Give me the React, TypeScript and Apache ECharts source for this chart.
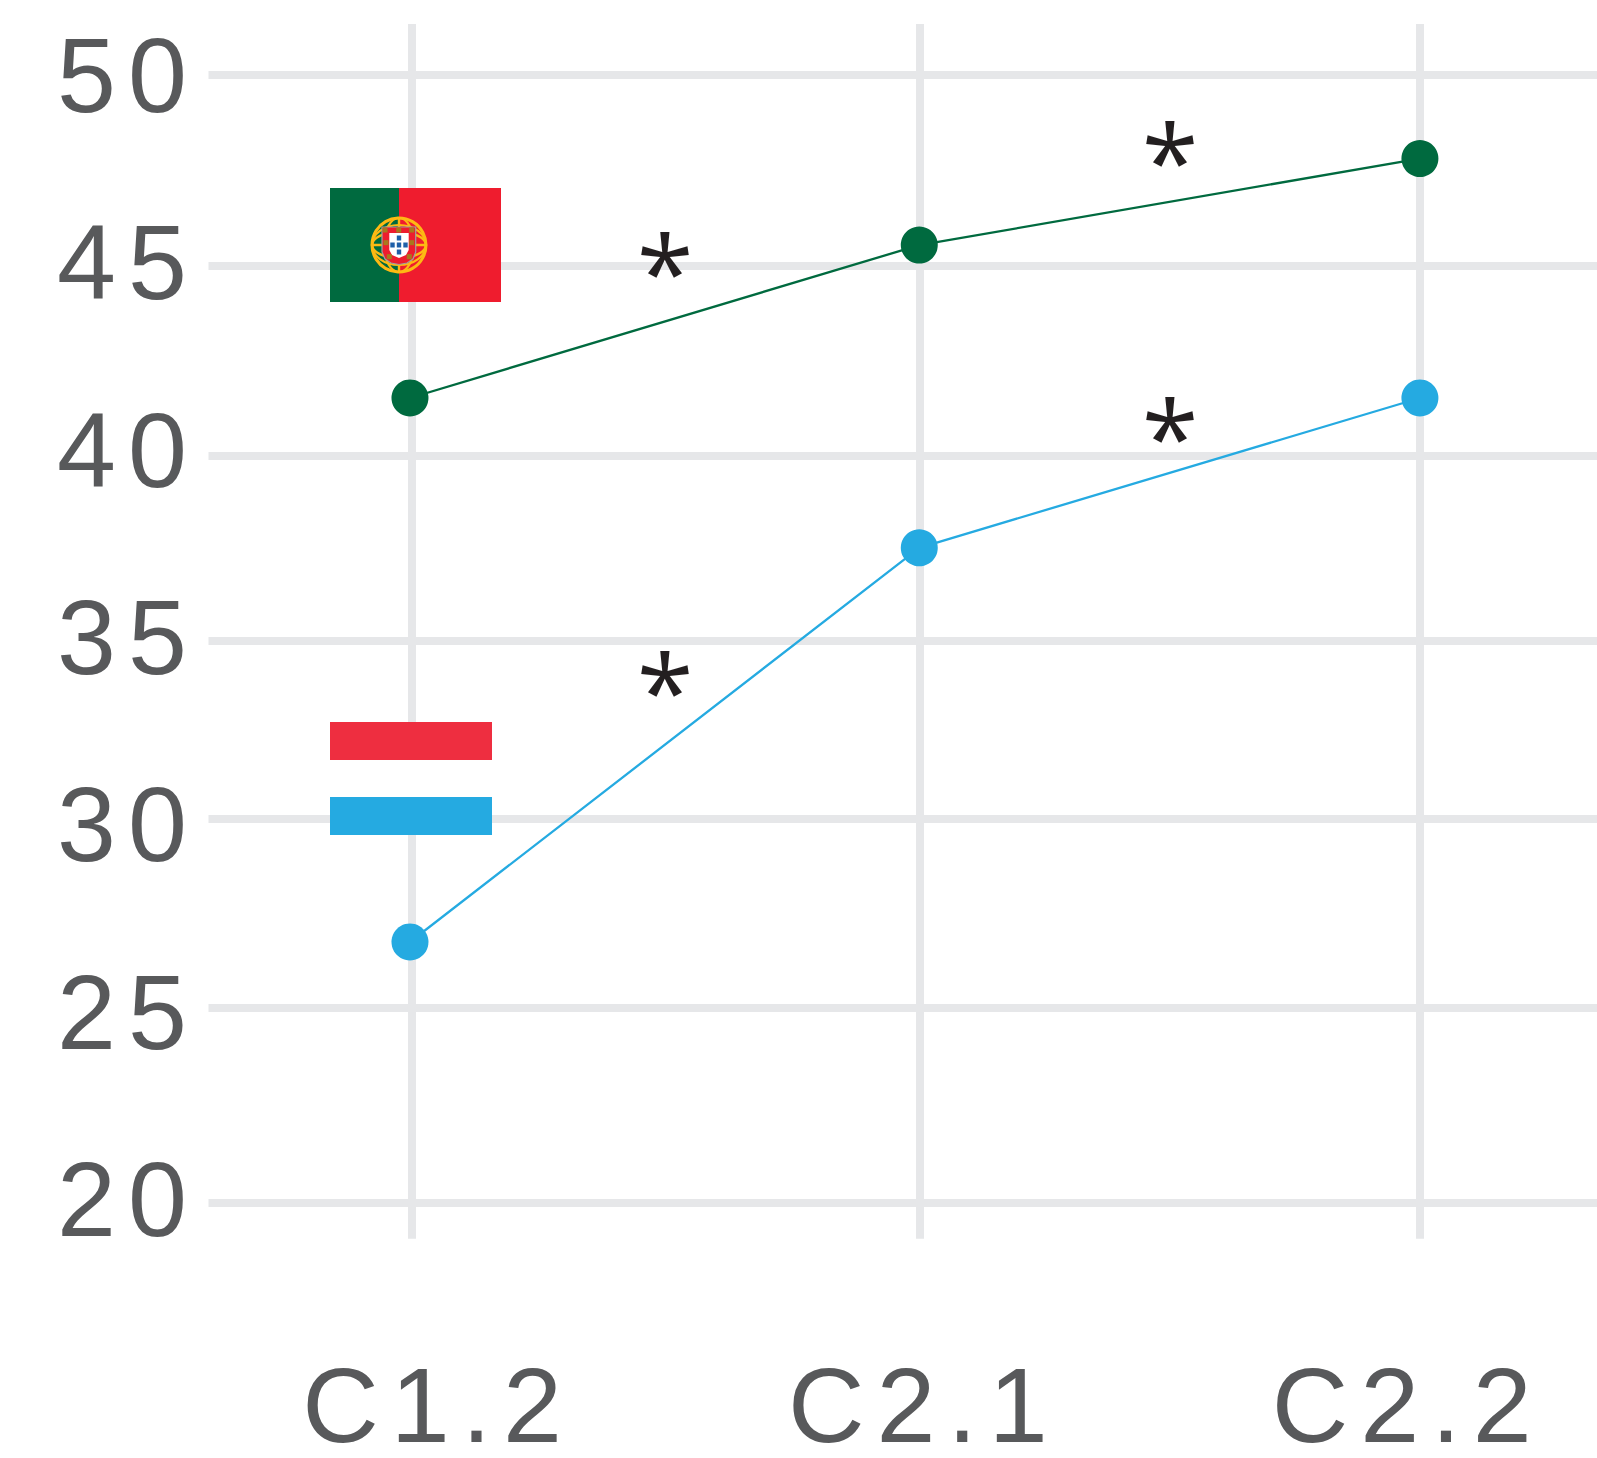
import React, { useEffect, useRef } from "react";
import * as echarts from "echarts";

const categories = ["C1.2", "C2.1", "C2.2"];
const pointX = [0, 1, 1.983];
const portugal = [41.38, 45.46, 47.77];
const netherlands = [26.86, 37.38, 41.38];
const yLabels = [20, 25, 30, 35, 40, 45, 50];
const yGridLines = [19.89, 25.1, 30.14, 34.9, 39.83, 44.91, 50];
const xGridLines = [0.004, 1, 1.983];
const xLabelAt = [0.0552, 1.009, 1.959];

const GREEN = "#006a3f";
const BLUE = "#25aae1";
const GREY = "#58595b";
const GRID = "#e6e7e9";
const GOLD = "#fdb913";
const FLAG_RED = "#ef1c2e";
const SHIELD_BLUE = "#1f5fa8";
const CASTLE = "#a9781d";

const rect = (x: number, y: number, width: number, height: number, fill: string) => ({
  type: "rect",
  z: 100,
  shape: { x, y, width, height },
  style: { fill },
  silent: true,
});

const star = (x: number, y: number) => ({
  type: "text",
  z: 101,
  x,
  y,
  silent: true,
  style: {
    text: "*",
    fill: "#231f20",
    font: "103px 'Open Sans'",
    textAlign: "center",
    textVerticalAlign: "top",
  },
});

const castles = [
  [385, 230], [398.7, 230], [411.7, 230], [386, 242.7], [411.7, 242.7], [389.3, 256.7], [409.3, 256.7],
];
const quinas = [
  [399, 238], [399, 245], [392.5, 245], [405.5, 245], [399, 252],
];

const flag = [
  rect(330, 188, 171, 114, FLAG_RED),
  rect(330, 188, 69, 114, GREEN),
  { type: "ellipse", z: 102, silent: true, shape: { cx: 399, cy: 245, rx: 27, ry: 13 }, style: { fill: "none", stroke: GOLD, lineWidth: 2.4 } },
  { type: "ellipse", z: 102, silent: true, shape: { cx: 399, cy: 245, rx: 27, ry: 20 }, style: { fill: "none", stroke: GOLD, lineWidth: 2.2 } },
  { type: "ellipse", z: 102, silent: true, shape: { cx: 399, cy: 245, rx: 15, ry: 27 }, style: { fill: "none", stroke: GOLD, lineWidth: 2.2 } },
  { type: "line", z: 102, silent: true, shape: { x1: 399, y1: 217, x2: 399, y2: 273 }, style: { stroke: GOLD, lineWidth: 2.4 } },
  { type: "line", z: 102, silent: true, shape: { x1: 371, y1: 245, x2: 427, y2: 245 }, style: { stroke: GOLD, lineWidth: 2.4 } },
  { type: "circle", z: 102, silent: true, shape: { cx: 399, cy: 245, r: 27 }, style: { fill: "none", stroke: GOLD, lineWidth: 3 } },
  {
    type: "polygon", z: 103, silent: true,
    shape: { points: [[382, 227], [415.7, 227], [415.7, 252], [413, 259], [407, 263], [399, 264.5], [391, 263], [385, 259], [382, 252]] },
    style: { fill: "#ed1c2e", stroke: "#a0a0a0", lineWidth: 1.2 },
  },
  {
    type: "polygon", z: 104, silent: true,
    shape: { points: [[389.3, 233], [408.7, 233], [408.7, 250], [406, 255], [399, 258], [392, 255], [389.3, 250]] },
    style: { fill: "#ffffff" },
  },
  ...quinas.map(([x, y]) => ({ ...rect(x - 2.2, y - 2.5, 4.4, 5, SHIELD_BLUE), z: 105 })),
  ...castles.map(([x, y]) => ({ ...rect(x - 2.5, y - 2.5, 5, 5, CASTLE), z: 105 })),
];

export default function App() {
  const ref = useRef<HTMLDivElement>(null);
  useEffect(() => {
    const chart = echarts.init(ref.current!, null, { renderer: "svg" });
    const axisFont = { fontFamily: "Liberation Sans", fontSize: 106, color: GREY };
    chart.setOption({
      animation: false,
      backgroundColor: "#ffffff",
      grid: { left: 208.5, right: 0, top: 24, bottom: 219.3, containLabel: false, outerBoundsMode: "none" },
      xAxis: {
        type: "value",
        min: -0.3956,
        max: 2.3307,
        axisLine: { show: false },
        axisTick: { show: false, customValues: xGridLines },
        splitLine: { show: true, lineStyle: { color: GRID, width: 8 } },
        axisLabel: {
          ...axisFont,
          customValues: xLabelAt,
          lineHeight: 90,
          margin: 121.5,
          formatter: (v: number) => {
            let best = 0;
            xLabelAt.forEach((p, i) => { if (Math.abs(p - v) < Math.abs(xLabelAt[best] - v)) best = i; });
            return categories[best];
          },
        },
      },
      yAxis: {
        type: "value",
        min: 18.94,
        max: 51.362,
        axisLine: { show: false },
        axisTick: { show: false, customValues: yGridLines },
        splitLine: { show: true, lineStyle: { color: GRID, width: 8 } },
        axisLabel: {
          ...axisFont,
          customValues: yLabels,
          margin: 9.5,
          padding: [0, 0, 5, 0],
          formatter: (v: number) => String(Math.round(v)),
        },
      },
      series: [
        {
          name: "Portugal",
          type: "line",
          data: pointX.map((x, i) => [x, portugal[i]]),
          symbol: "circle",
          symbolSize: 37,
          itemStyle: { color: GREEN },
          lineStyle: { color: GREEN, width: 2.3 },
          clip: false,
          silent: true,
        },
        {
          name: "Netherlands",
          type: "line",
          data: pointX.map((x, i) => [x, netherlands[i]]),
          symbol: "circle",
          symbolSize: 37,
          itemStyle: { color: BLUE },
          lineStyle: { color: BLUE, width: 2.3 },
          clip: false,
          silent: true,
        },
      ],
      graphic: {
        elements: [
          ...flag,
          rect(330, 722, 162, 38, "#ee2e40"),
          rect(330, 760, 162, 37, "#ffffff"),
          rect(330, 797, 162, 38, BLUE),
          star(671, 218),
          star(1176, 107),
          star(1176, 383),
          star(671, 637),
        ],
      },
    });
    return () => chart.dispose();
  }, []);
  return (
    <div
      ref={ref}
      style={{ position: "absolute", left: 0, top: 0, width: 1597, height: 1458, letterSpacing: "12px" }}
    />
  );
}
